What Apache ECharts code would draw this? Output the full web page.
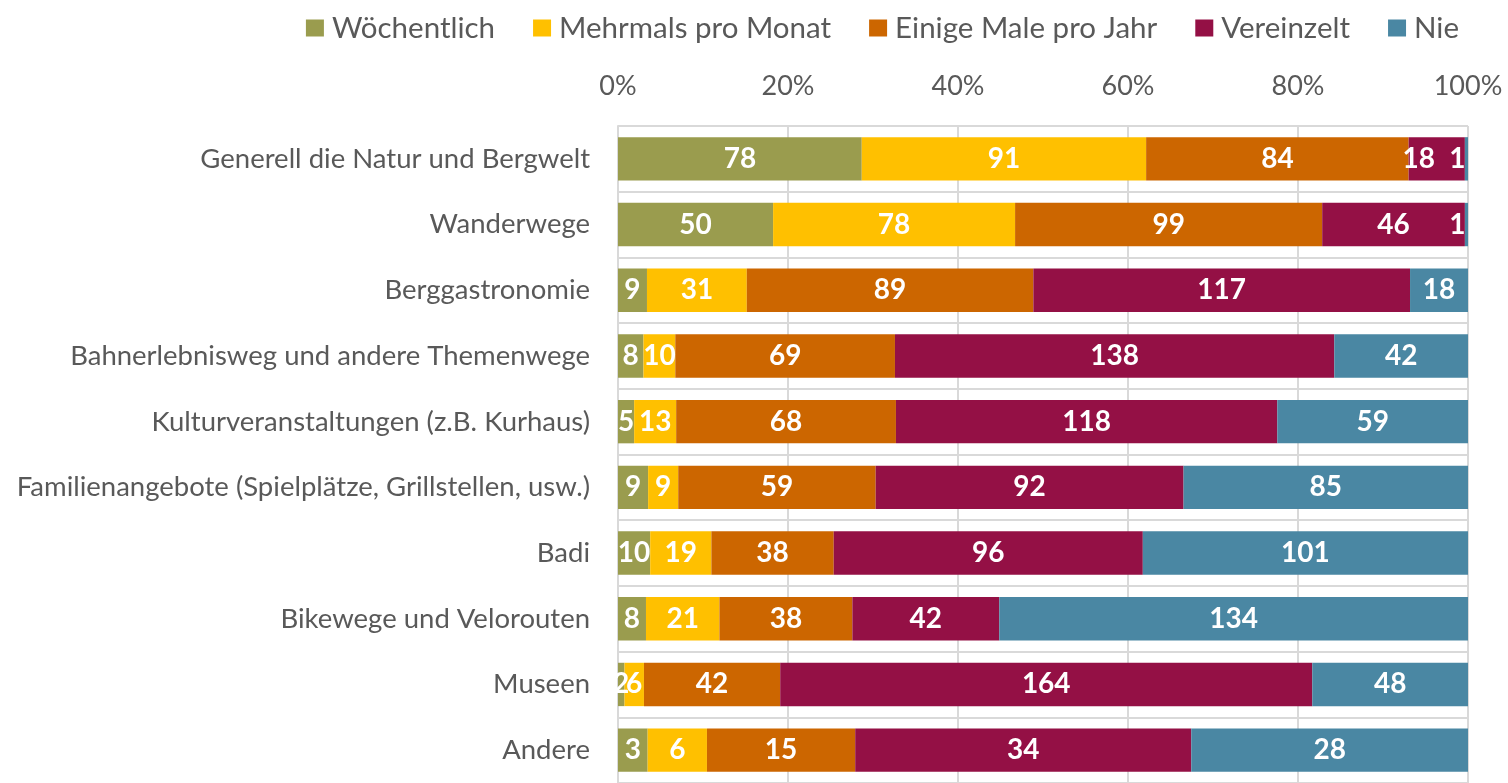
<!DOCTYPE html>
<html><head><meta charset="utf-8">
<script src="https://cdn.jsdelivr.net/npm/echarts@6/dist/echarts.min.js"></script>
<style>html,body{margin:0;padding:0;background:#fff}#c{width:1508px;height:783px}</style>
</head><body><div id="c"></div>
<script>
const categories = ["Generell die Natur und Bergwelt","Wanderwege","Berggastronomie","Bahnerlebnisweg und andere Themenwege","Kulturveranstaltungen (z.B. Kurhaus)","Familienangebote (Spielplätze, Grillstellen, usw.)","Badi","Bikewege und Velorouten","Museen","Andere"];
const seriesNames = ["Wöchentlich","Mehrmals pro Monat","Einige Male pro Jahr","Vereinzelt","Nie"];
const woechentlich = [78,50,9,8,5,9,10,8,2,3];
const mehrmals     = [91,78,31,10,13,9,19,21,6,6];
const einige       = [84,99,89,69,68,59,38,38,42,15];
const vereinzelt   = [18,46,117,138,118,92,96,42,164,34];
const nie          = [1,1,18,42,59,85,101,134,48,28];
const tickLabels = ["0%","20%","40%","60%","80%","100%"];
const colors = ["#9A9C4E","#FFC000","#CC6600","#941045","#4A87A3"];

const raw = [woechentlich, mehrmals, einige, vereinzelt, nie];
const totals = categories.map((_, i) => raw.reduce((s, a) => s + a[i], 0));
const font = "Lato";
const chart = echarts.init(document.getElementById('c'));
chart.setOption({
  animation: false,
  textStyle: {fontFamily: font},
  legend: {
    top: 8, right: 44, itemWidth: 18, itemHeight: 17, itemGap: 38, icon: 'rect',
    textStyle: {fontFamily: font, fontSize: 29.5, color: '#595959', padding: [0,0,0,3]}
  },
  grid: {left: 618, width: 850, top: 126, height: 663},
  xAxis: {
    type: 'value', position: 'top', min: 0, max: 100, interval: 20,
    axisLine: {show: false}, axisTick: {show: false},
    axisLabel: {fontFamily: font, fontSize: 27, color: '#595959', margin: 26,
      formatter: v => tickLabels[Math.round(v / 20)]},
    splitLine: {lineStyle: {color: '#D9D9D9', width: 2}}
  },
  yAxis: {
    type: 'category', inverse: true, data: categories,
    axisLine: {show: true, lineStyle: {color: '#D9D9D9', width: 2}},
    axisTick: {show: false},
    splitLine: {show: true, lineStyle: {color: '#D9D9D9', width: 2}},
    axisLabel: {fontFamily: font, fontSize: 27.5, color: '#595959', margin: 28}
  },
  series: raw.map((arr, k) => ({
    name: seriesNames[k], type: 'bar', stack: 'all', barWidth: '66%',
    itemStyle: {color: colors[k]},
    data: arr.map((v, i) => {
      const pct = v / totals[i] * 100;
      const d = {value: pct, raw: v};
      if (k === 4 && pct < 1) d.label = {offset: [-9, 0]};
      if (k === 3 && pct < 10 && nie[i] / totals[i] < 0.01) d.label = {offset: [-18, 0]};
      return d;
    }),
    label: {show: true, position: 'inside', color: '#fff', fontFamily: font,
      fontWeight: 'bold', fontSize: 28, formatter: p => p.data.raw}
  }))
});
</script></body></html>
